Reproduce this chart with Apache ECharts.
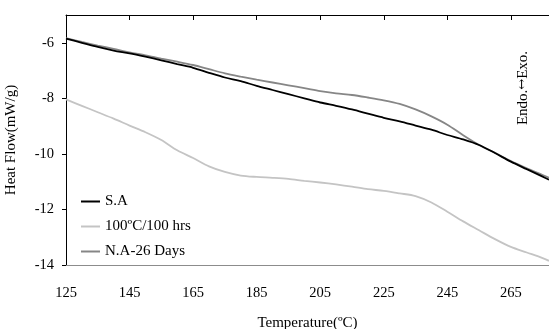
<!DOCTYPE html>
<html><head><meta charset="utf-8">
<script src="https://cdn.jsdelivr.net/npm/echarts@6/dist/echarts.min.js"></script>
<style>html,body{margin:0;padding:0;background:#fff}#c{width:549px;height:329px}</style>
</head><body><div id="c"></div>
<script>
const temperature = [125,130,135,140,145,150,155,160,165,170,175,180,185,190,195,200,205,210,215,220,225,230,235,240,245,250,255,260,265,270,275,277];
const seriesSA = [-5.85,-6.0,-6.15,-6.28,-6.38,-6.5,-6.63,-6.77,-6.9,-7.08,-7.25,-7.38,-7.55,-7.7,-7.85,-8.0,-8.15,-8.27,-8.4,-8.55,-8.7,-8.83,-8.98,-9.13,-9.32,-9.48,-9.68,-9.97,-10.28,-10.55,-10.82,-10.93];
const series100C = [-8.04,-8.27,-8.5,-8.73,-8.98,-9.22,-9.5,-9.87,-10.15,-10.45,-10.65,-10.78,-10.83,-10.86,-10.9,-10.97,-11.03,-11.1,-11.18,-11.27,-11.33,-11.42,-11.52,-11.75,-12.08,-12.43,-12.75,-13.07,-13.35,-13.55,-13.75,-13.85];
const seriesNA = [-5.83,-5.97,-6.1,-6.22,-6.35,-6.45,-6.57,-6.68,-6.8,-6.95,-7.1,-7.22,-7.33,-7.43,-7.53,-7.63,-7.74,-7.82,-7.88,-7.97,-8.07,-8.2,-8.4,-8.65,-8.95,-9.33,-9.68,-9.96,-10.26,-10.52,-10.76,-10.86];
const seriesNames = ['S.A','100ºC/100 hrs','N.A-26 Days'];
const xTicks = {min:125, max:277, interval:20};
const yTicks = {min:-14, max:-5, interval:2};

const F = 'Liberation Serif, Times New Roman, serif';
const pairs = a => temperature.map((t,i)=>[t,a[i]]);
const chart = echarts.init(document.getElementById('c'), null, {renderer:'canvas'});
chart.setOption({
  animation:false,
  grid:{left:66, top:15, right:0, bottom:64, containLabel:false, outerBoundsMode:'none'},
  legend:{
    orient:'vertical', left:76, top:189, itemWidth:19, itemHeight:2, itemGap:10, icon:'rect',
    textStyle:{fontFamily:F, fontSize:15, color:'#000', lineHeight:14},
    data:seriesNames
  },
  xAxis:[{
    type:'value', min:xTicks.min, max:xTicks.max, interval:xTicks.interval, position:'bottom',
    axisLine:{show:true, onZero:false, lineStyle:{color:'#8c8c8c', width:1}},
    axisTick:{show:false}, splitLine:{show:false},
    axisLabel:{fontFamily:F, fontSize:14.5, color:'#000', margin:21, showMaxLabel:false},
    name:'Temperature(ºC)', nameLocation:'middle', nameGap:51,
    nameTextStyle:{fontFamily:F, fontSize:15, color:'#000'}
  },{
    type:'value', min:xTicks.min, max:xTicks.max, interval:xTicks.interval, position:'top',
    axisLine:{show:true, onZero:false, lineStyle:{color:'#000', width:1}},
    axisTick:{show:true, inside:true, length:5, lineStyle:{color:'#000'}},
    axisLabel:{show:false}, splitLine:{show:false}
  }],
  yAxis:{
    type:'value', min:yTicks.min, max:yTicks.max, interval:yTicks.interval,
    axisLine:{show:true, onZero:false, lineStyle:{color:'#000', width:1}},
    axisTick:{show:true, length:4, lineStyle:{color:'#000'}},
    splitLine:{show:false},
    axisLabel:{fontFamily:F, fontSize:14.5, color:'#000', margin:12, showMaxLabel:false},
    name:'Heat Flow(mW/g)', nameLocation:'middle', nameGap:47,
    nameTextStyle:{fontFamily:F, fontSize:15, color:'#000'}
  },
  graphic:[{
    type:'text', x:523, y:88, rotation:Math.PI/2,
    style:{
      text:'{a|Endo.}{b|↔}{a|Exo.}', align:'center', verticalAlign:'middle',
      rich:{
        a:{fontFamily:F, fontSize:15, fill:'#000', color:'#000'},
        b:{fontFamily:'DejaVu Serif', fontSize:13, fill:'#000', color:'#000'}
      }
    }
  }],
  series:[
    {name:seriesNames[0], type:'line', data:pairs(seriesSA), showSymbol:false, symbol:'none', smooth:0.3, lineStyle:{color:'#000', width:1.8}, itemStyle:{color:'#000'}, z:5},
    {name:seriesNames[1], type:'line', data:pairs(series100C), showSymbol:false, symbol:'none', smooth:0.3, lineStyle:{color:'#c4c4c4', width:1.8}, itemStyle:{color:'#c4c4c4'}},
    {name:seriesNames[2], type:'line', data:pairs(seriesNA), showSymbol:false, symbol:'none', smooth:0.3, lineStyle:{color:'#868686', width:1.8}, itemStyle:{color:'#868686'}, z:4}
  ]
});
</script></body></html>
